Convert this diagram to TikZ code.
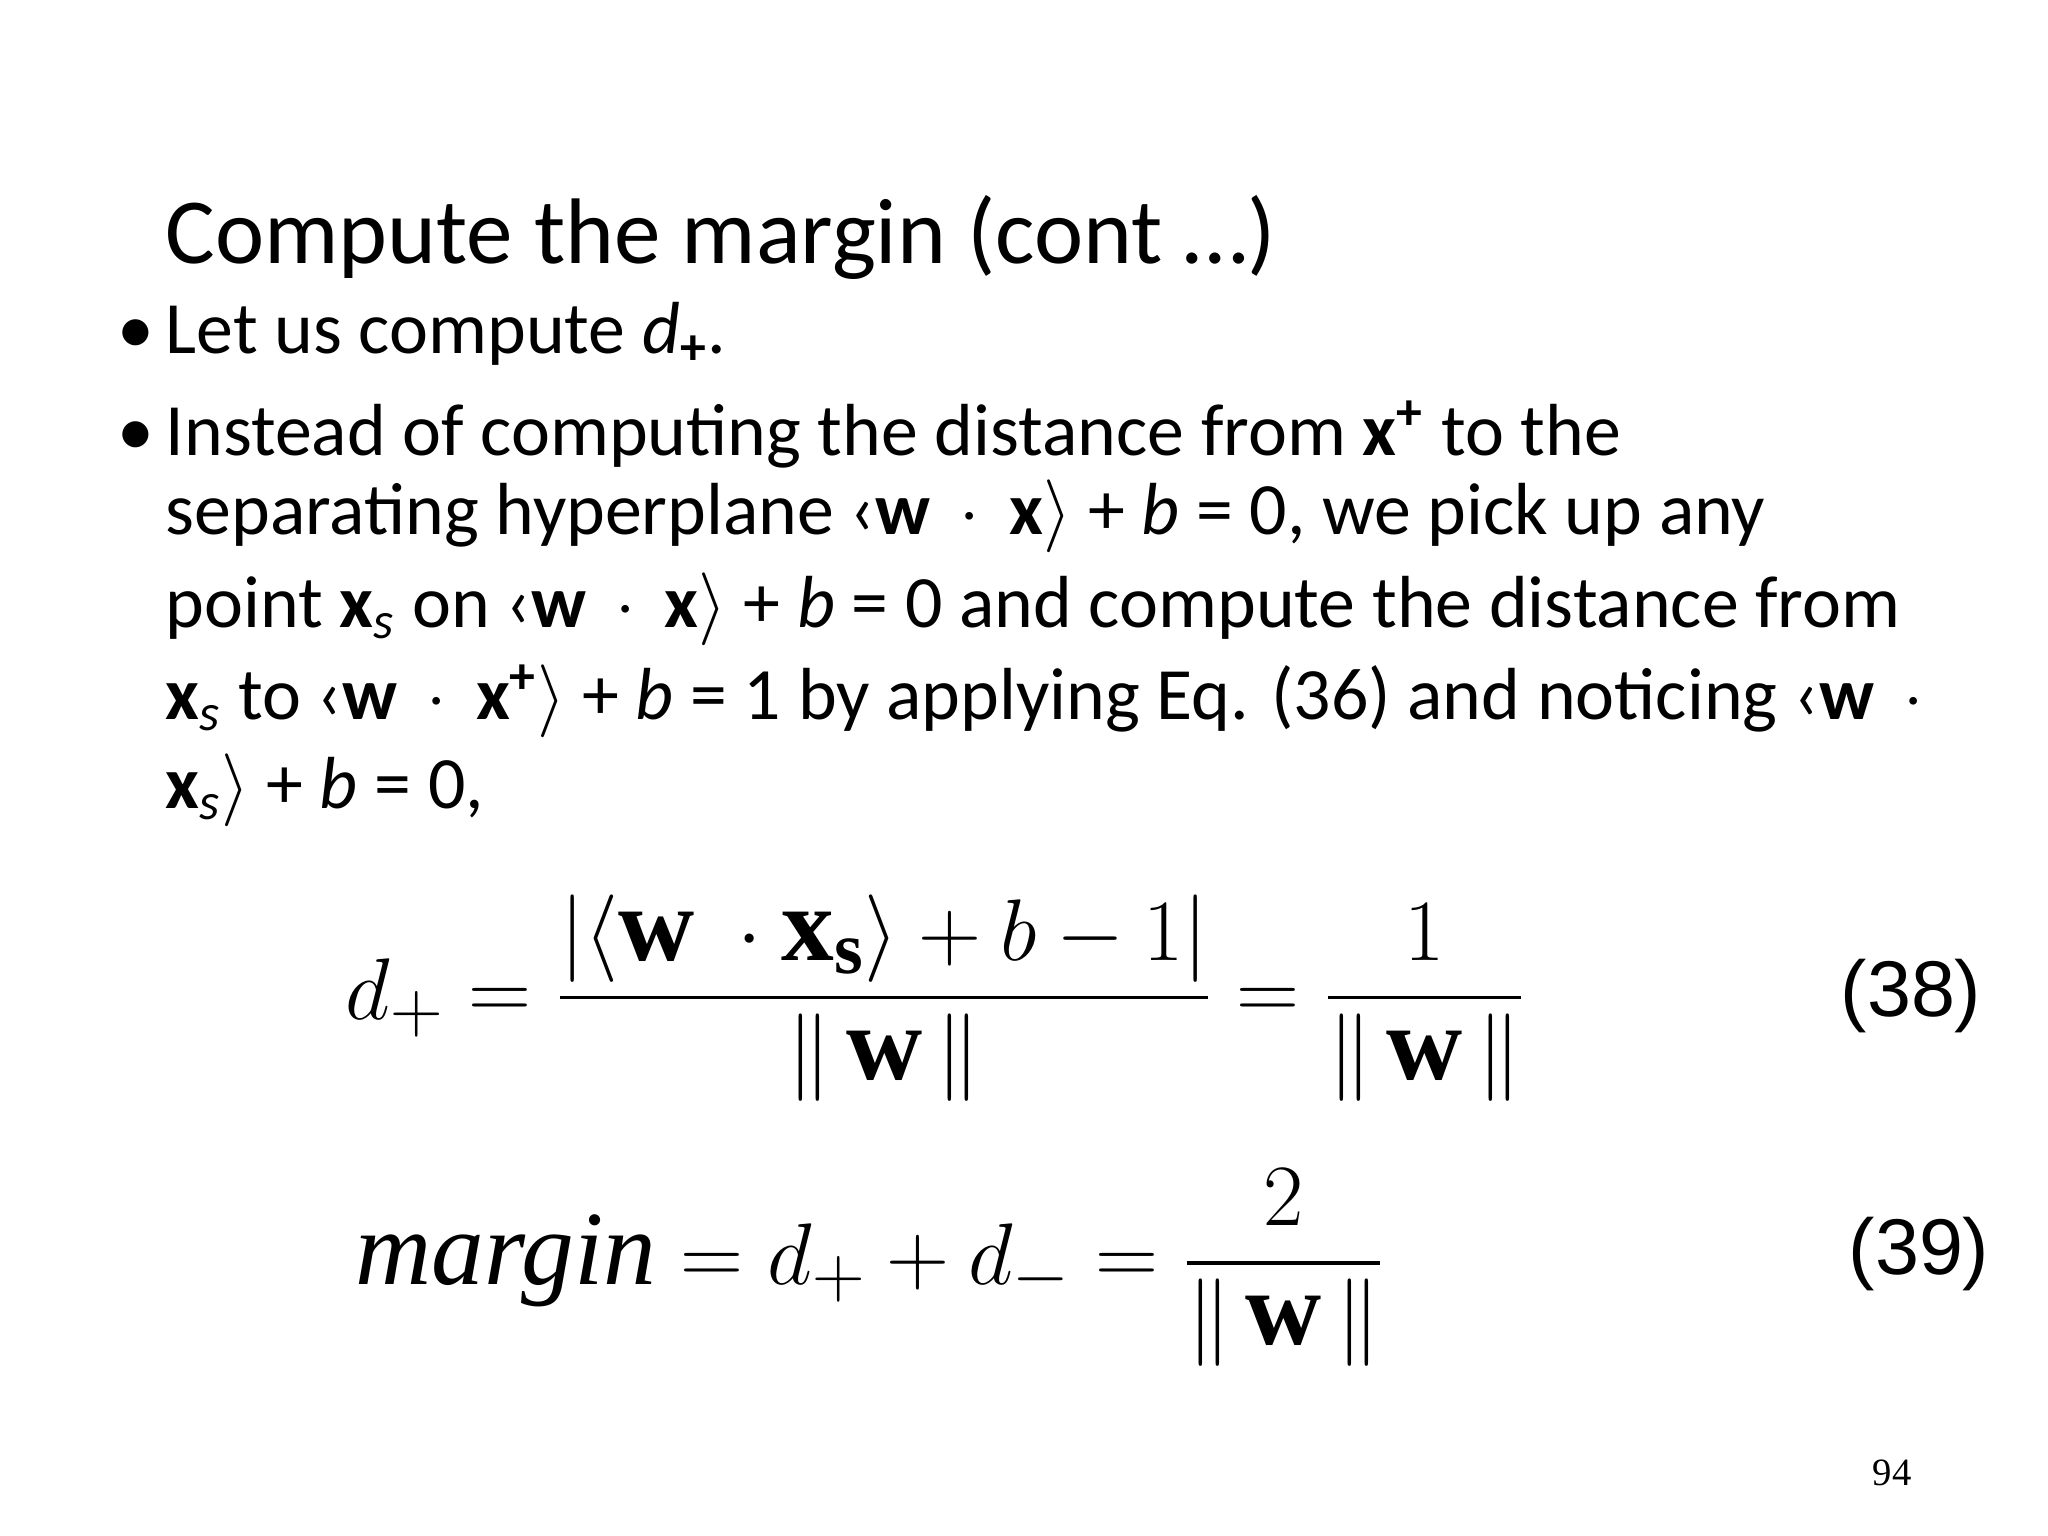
\documentclass[tikz,border=0pt]{standalone}
\usepackage{amsmath}
\usepackage{fontspec}
\setmainfont{Carlito}
\newfontfamily\serifnum{Liberation Serif}
\newfontfamily\sansnum{Liberation Sans}
\newcommand{\bvw}{\text{\serifnum\bfseries w}}
\newcommand{\bvx}{\text{\serifnum\bfseries x}}
\newcommand{\sbs}{\text{\serifnum\bfseries s}}
\newcommand{\plusb}{\textsuperscript{\textbf{+}}}
\newcommand{\subs}{\textsubscript{\textit{s}}}
\begin{document}
\begin{tikzpicture}
\tikzset{
  body/.style={anchor=base west,inner sep=0pt,font=\fontsize{21}{25}\selectfont},
  bul/.style={anchor=base,inner sep=0pt,font=\fontsize{21}{25}\selectfont},
  eq/.style={anchor=west,inner sep=0pt,font=\fontsize{30}{36}\selectfont},
  eqn/.style={anchor=base west,inner sep=0pt,font=\sansnum\fontsize{22.5}{27}\selectfont}
}
\useasboundingbox (0,0) rectangle (20.48,15.36);
\node[anchor=base west,inner sep=0pt,font=\fontsize{26.5}{32}\selectfont] (title) at (1.65,12.72) {Compute the margin (cont …)};
\node[bul] (b1) at (1.36,11.82) {•};
\node[body] (l1) at (1.65,11.82) {Let us compute \textit{d}\textsubscript{\textbf{+}}.};
\node[bul] (b2) at (1.36,10.80) {•};
\node[body] (l2) at (1.65,10.80) {Instead of computing the distance from \textbf{x}\plusb{} to the};
\node[body] (l3) at (1.65,10.01) {separating hyperplane ‹\textbf{w}\, $\cdot$\, \textbf{x}$\rangle$ + \textit{b} = 0, we pick up any};
\node[body] (l4) at (1.65,9.08) {point \textbf{x}\subs{} on ‹\textbf{w}\, $\cdot$\, \textbf{x}$\rangle$ + \textit{b} = 0 and compute the distance from};
\node[body] (l5) at (1.65,8.16) {\textbf{x}\subs{} to ‹\textbf{w}\, $\cdot$\, \textbf{x}\plusb$\rangle$ + \textit{b} = 1 by applying Eq. (36) and noticing ‹\textbf{w}\, $\cdot$};
\node[body] (l6) at (1.65,7.27) {\textbf{x}\subs$\rangle$ + \textit{b} = 0,};
\node[eq] (e38) at (3.45,5.38) {$\displaystyle d_{+} = \frac{|\langle \bvw\ \cdot\bvx_{\sbs}\rangle + b - 1|}{\|\,\bvw\,\|} = \frac{1}{\|\,\bvw\,\|}$};
\node[eqn] (n38) at (18.40,5.19) {(38)};
\node[eq] (e39) at (3.55,2.68) {$\displaystyle \text{\serifnum\itshape margin} = d_{+} + d_{-} = \frac{2}{\|\,\bvw\,\|}$};
\node[eqn] (n39) at (18.48,2.61) {(39)};
\node[anchor=base,inner sep=0pt,font=\serifnum\fontsize{11}{13}\selectfont] (pg) at (18.92,0.50) {94};
\end{tikzpicture}
\end{document}
